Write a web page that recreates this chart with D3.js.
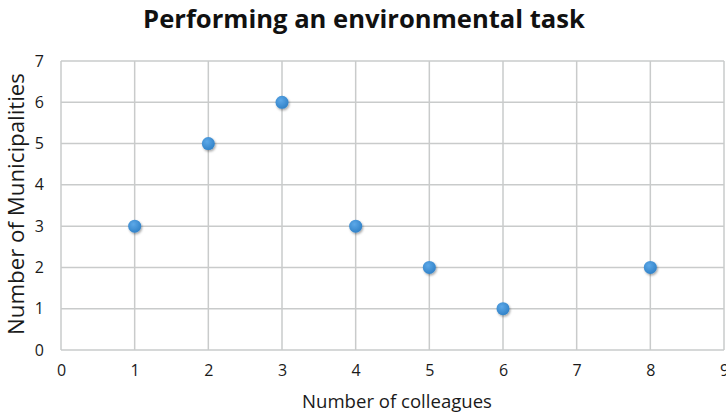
<!DOCTYPE html>
<html><head><meta charset="utf-8">
<script src="https://cdn.jsdelivr.net/npm/d3@7"></script>
<style>body{margin:0;background:#fff;}svg{display:block;}</style>
</head><body>
<script>
const colleagues = [1, 2, 3, 4, 5, 6, 8];
const municipalities = [3, 5, 6, 3, 2, 1, 2];
const xTicks = [0,1,2,3,4,5,6,7,8,9];
const yTicks = [0,1,2,3,4,5,6,7];
const title = "Performing an environmental task";
const xTitle = "Number of colleagues";
const yTitle = "Number of Municipalities";

const W = 726, H = 415;
const m = {l:61, r:2, t:61, b:65};
const svg = d3.select("body").append("svg").attr("width", W).attr("height", H);
const defs = svg.append("defs");
const grad = defs.append("radialGradient").attr("id","g").attr("cx","40%").attr("cy","35%").attr("r","70%");
grad.append("stop").attr("offset","0%").attr("stop-color","#5ca8e8");
grad.append("stop").attr("offset","100%").attr("stop-color","#2f80c6");
const f = defs.append("filter").attr("id","sh").attr("x","-50%").attr("y","-50%").attr("width","200%").attr("height","200%");
f.append("feDropShadow").attr("dx",1).attr("dy",1.5).attr("stdDeviation",1.3).attr("flood-color","#000").attr("flood-opacity",0.35);

const x = d3.scaleLinear().domain([0,9]).range([m.l, W - m.r]);
const y = d3.scaleLinear().domain([0,7]).range([H - m.b, m.t]);

const font = "'Open Sans', 'Liberation Sans', sans-serif";

// gridlines
svg.append("g").selectAll("line").data(xTicks).join("line")
  .attr("x1", d=>x(d)).attr("x2", d=>x(d)).attr("y1", y(0)).attr("y2", y(7))
  .attr("stroke","#c9cbcb").attr("stroke-width",1.5);
svg.append("g").selectAll("line").data(yTicks).join("line")
  .attr("x1", x(0)).attr("x2", x(9)).attr("y1", d=>y(d)).attr("y2", d=>y(d))
  .attr("stroke","#c9cbcb").attr("stroke-width",1.5);

// axes labels
const xa = svg.append("g").attr("transform",`translate(0,${y(0)})`)
  .call(d3.axisBottom(x).tickValues(xTicks).tickSize(0).tickPadding(15).tickFormat(d3.format("d")));
xa.select(".domain").remove();
xa.selectAll("text").attr("font-family",font).attr("font-size",16).attr("fill","#1a1a1a");
const ya = svg.append("g").attr("transform",`translate(${x(0)},0)`)
  .call(d3.axisLeft(y).tickValues(yTicks).tickSize(0).tickPadding(17).tickFormat(d3.format("d")));
ya.select(".domain").remove();
ya.selectAll("text").attr("font-family",font).attr("font-size",16).attr("fill","#1a1a1a");

// points
const data = colleagues.map((c,i)=>({x:c, y:municipalities[i]}));
svg.append("g").selectAll("circle").data(data).join("circle")
  .attr("cx", d=>x(d.x)).attr("cy", d=>y(d.y)).attr("r", 6.5)
  .attr("fill","url(#g)").attr("filter","url(#sh)");

function fit(sel, target){
  const len = sel.node().getComputedTextLength();
  const fs = +sel.attr("font-size");
  sel.attr("font-size", fs*target/len);
}
// titles
const t = svg.append("text").attr("x", 364).attr("y", 28).attr("text-anchor","middle")
  .attr("font-family",font).attr("font-weight","bold").attr("font-size",25).attr("fill","#111").text(title);
fit(t, 442);
const xt = svg.append("text").attr("x", 397).attr("y", 408).attr("text-anchor","middle")
  .attr("font-family",font).attr("font-size",18).attr("fill","#1a1a1a").text(xTitle);
fit(xt, 190);
const yt = svg.append("text").attr("transform",`translate(24,204) rotate(-90)`).attr("text-anchor","middle")
  .attr("font-family",font).attr("font-size",18).attr("fill","#1a1a1a").text(yTitle);
fit(yt, 262);
</script>
</body></html>
